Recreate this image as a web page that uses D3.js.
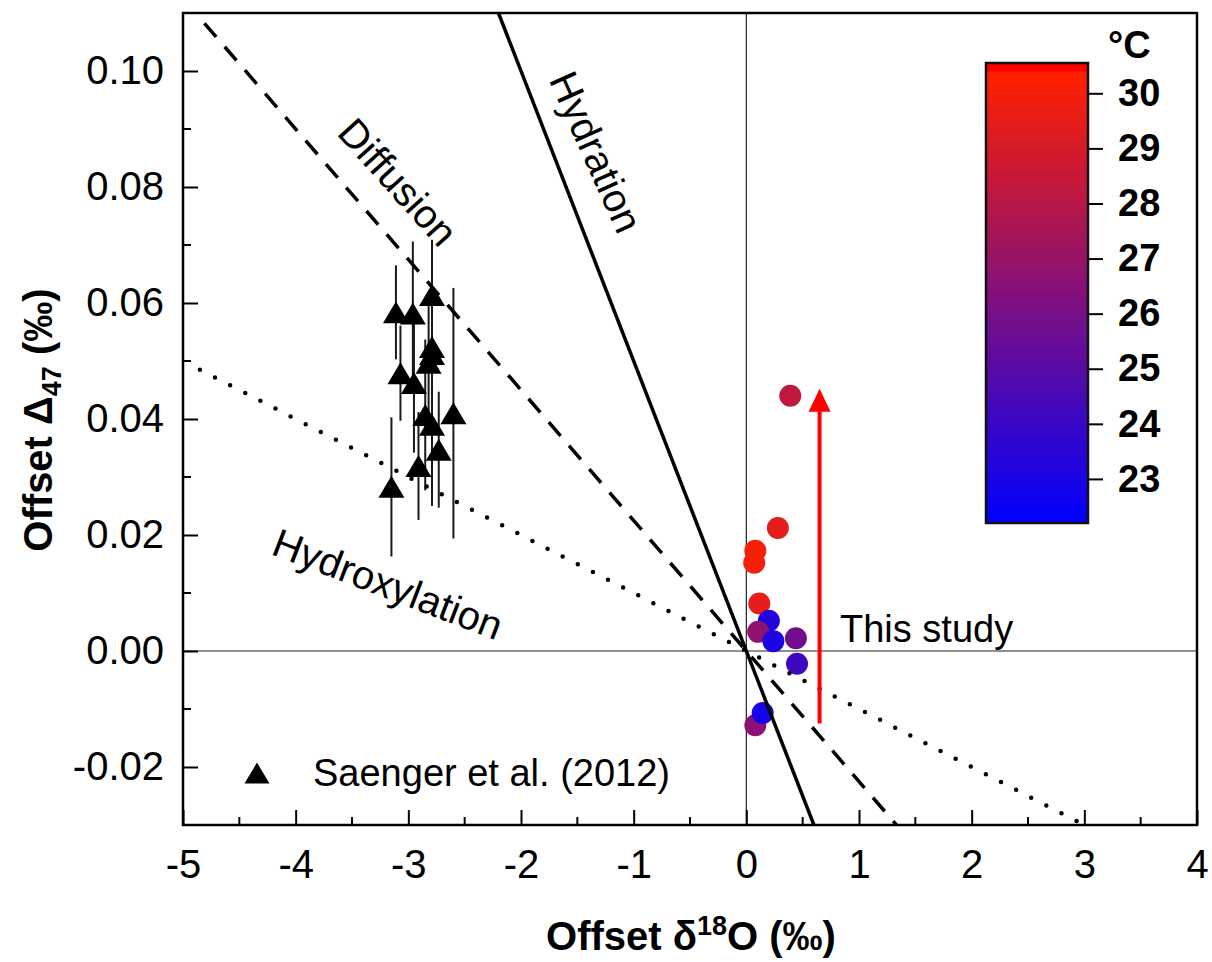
<!DOCTYPE html>
<html lang="en">
<head>
<meta charset="UTF-8">
<title>Offset D47 vs Offset d18O</title>
<style>
    html, body { margin: 0; padding: 0; background: #fff; }
    svg text { font-family: "Liberation Sans", Arial, sans-serif; }
</style>
</head>
<body>
<div id="chart"></div>
<script src="https://cdn.jsdelivr.net/npm/d3@7"></script>
<script>
// Saenger et al. (2012) triangles
const triX   = [-3.11, -2.96, -2.79, -3.07, -2.95, -2.79, -2.79, -2.82, -2.85, -2.79, -2.60, -2.73, -2.91, -3.15];
const triY   = [0.0584, 0.0582, 0.0614, 0.0479, 0.0462, 0.0524, 0.0512, 0.0497, 0.0407, 0.0390, 0.0410, 0.0347, 0.0319, 0.0283];
const triErr = [0.0081, 0.0124, 0.0095, 0.0082, 0.0120, 0.0120, 0.0105, 0.0110, 0.0130, 0.0140, 0.0216, 0.0100, 0.0093, 0.0120];

// this study, coloured by temperature (°C)
const circX = [0.39, 0.28, 0.08, 0.07, 0.115, 0.20, 0.105, 0.24, 0.44, 0.45, 0.08, 0.145];
const circY = [0.0440, 0.0212, 0.0173, 0.0152, 0.0082, 0.0052, 0.0033, 0.0017, 0.0022, -0.0022, -0.0128, -0.0107];
const circT = [28.3, 29.4, 30.0, 30.0, 29.5, 23.3, 26.8, 23.1, 25.8, 24.2, 26.6, 22.9];

// model lines through origin: slope and x extent
const lineNames  = ["Hydration", "Diffusion", "Hydroxylation"];
const lineSlopes = [-0.05, -0.0225, -0.01];
const lineX0     = [-2.2, -4.81, -4.85];
const lineX1     = [0.6, 1.333, 2.95];

// red arrow
const arrowX = 0.65, arrowY0 = -0.0125, arrowY1 = 0.0452;

const xTicks = [-5, -4, -3, -2, -1, 0, 1, 2, 3, 4];
const yTicks = [-0.02, 0, 0.02, 0.04, 0.06, 0.08, 0.10];
const cbTicks = [23, 24, 25, 26, 27, 28, 29, 30];
const cbDomain = [22.2, 30.55];

const W = 1212, H = 962;
const L = 183, R = 1197, T = 13, B = 825;

const svg = d3.select("#chart").append("svg")
    .attr("width", W).attr("height", H);

const x = d3.scaleLinear().domain([-5, 4]).range([L, R]);
const y = d3.scaleLinear().domain([-0.03, 0.11]).range([B, T]);

const tempColor = d3.scaleLinear()
    .domain([22.2, 30.3, 30.32, 30.55])
    .range(["#0000ff", "#ff2000", "#ff0000", "#ff0000"])
    .interpolate(d3.interpolateRgb);

const hyphen = s => s.replace("−", "-");

svg.append("clipPath").attr("id", "plot")
    .append("rect").attr("x", L).attr("y", T).attr("width", R - L).attr("height", B - T);

// zero lines
svg.append("line").attr("x1", x(0)).attr("x2", x(0)).attr("y1", T).attr("y2", B)
    .attr("stroke", "#222").attr("stroke-width", 1.2);
svg.append("line").attr("x1", L).attr("x2", R).attr("y1", y(0)).attr("y2", y(0))
    .attr("stroke", "#222").attr("stroke-width", 1.2);

// error bars + triangles
const tri = triX.map((d, i) => ({ x: d, y: triY[i], e: triErr[i] }));
svg.append("g").selectAll("line").data(tri).join("line")
    .attr("x1", d => x(d.x)).attr("x2", d => x(d.x))
    .attr("y1", d => y(d.y - d.e)).attr("y2", d => y(d.y + d.e))
    .attr("stroke", "#1a1a1a").attr("stroke-width", 2);
svg.append("g").selectAll("path").data(tri).join("path")
    .attr("transform", d => `translate(${x(d.x)},${y(d.y)})`)
    .attr("d", "M0,-11L13,11L-13,11Z")
    .attr("fill", "#000");

// circles
const circ = circX.map((d, i) => ({ x: d, y: circY[i], t: circT[i] }));
svg.append("g").selectAll("circle").data(circ).join("circle")
    .attr("cx", d => x(d.x)).attr("cy", d => y(d.y)).attr("r", 11)
    .attr("fill", d => tempColor(d.t));

// model lines
const dashes = [null, "18,13", "0,17"];
const widths = [3.5, 3.5, 4.5];
const lg = svg.append("g").attr("clip-path", "url(#plot)");
lineNames.forEach((n, i) => {
    lg.append("line")
        .attr("x1", x(lineX0[i])).attr("y1", y(lineSlopes[i] * lineX0[i]))
        .attr("x2", x(lineX1[i])).attr("y2", y(lineSlopes[i] * lineX1[i]))
        .attr("stroke", "#000").attr("stroke-width", widths[i])
        .attr("stroke-dasharray", dashes[i])
        .attr("stroke-linecap", i === 2 ? "round" : "butt");
});

// arrow
const headH = 23, headW = 22;
svg.append("line")
    .attr("x1", x(arrowX)).attr("x2", x(arrowX))
    .attr("y1", y(arrowY0)).attr("y2", y(arrowY1) + headH - 2)
    .attr("stroke", "#ff0000").attr("stroke-width", 4);
svg.append("path")
    .attr("transform", `translate(${x(arrowX)},${y(arrowY1)})`)
    .attr("d", `M0,0L${headW / 2},${headH}L${-headW / 2},${headH}Z`)
    .attr("fill", "#ff0000");

// line labels
const labelPos = [[596, 152, 66], [398, 182, 48], [388, 584, 21]];
lineNames.forEach((n, i) => {
    const [cx, cy, a] = labelPos[i];
    svg.append("text")
        .attr("transform", `translate(${cx},${cy}) rotate(${a})`)
        .attr("text-anchor", "middle").attr("dy", "0.35em")
        .attr("font-size", 40).text(n);
});

svg.append("text").attr("x", 840).attr("y", 642)
    .attr("font-size", 38).text("This study");

// legend
svg.append("path").attr("transform", "translate(257,773)")
    .attr("d", "M0,-10.5L12.5,10.5L-12.5,10.5Z").attr("fill", "#000");
svg.append("text").attr("x", 313).attr("y", 786)
    .attr("font-size", 38).text("Saenger et al. (2012)");

// axes: ticks inward
const xAxis = svg.append("g").attr("transform", `translate(0,${B})`)
    .call(d3.axisBottom(x).tickValues(xTicks).tickSize(-15).tickPadding(0)
        .tickFormat(d => hyphen(d3.format("d")(d))));
xAxis.selectAll("text").attr("y", 53).attr("dy", 0).attr("font-size", 40).attr("font-family", null);
const xMinor = d3.range(-4.5, 4, 1);
svg.append("g").selectAll("line").data(xMinor).join("line")
    .attr("x1", d => x(d)).attr("x2", d => x(d)).attr("y1", B).attr("y2", B - 8)
    .attr("stroke", "#000").attr("stroke-width", 2);

const yAxis = svg.append("g").attr("transform", `translate(${L},0)`)
    .call(d3.axisLeft(y).tickValues(yTicks).tickSize(-15)
        .tickFormat(d => hyphen(d3.format(".2f")(d))));
yAxis.selectAll("text").attr("x", -19).attr("font-size", 40).attr("font-family", null);
const yMinor = [-0.01, 0.01, 0.03, 0.05, 0.07, 0.09];
svg.append("g").selectAll("line").data(yMinor).join("line")
    .attr("x1", L).attr("x2", L + 8).attr("y1", d => y(d)).attr("y2", d => y(d))
    .attr("stroke", "#000").attr("stroke-width", 2);

[xAxis, yAxis].forEach(a => {
    a.select(".domain").remove();
    a.selectAll(".tick line").attr("stroke", "#000").attr("stroke-width", 2);
    a.selectAll("text").attr("fill", "#000");
});

// frame
svg.append("rect").attr("x", L).attr("y", T).attr("width", R - L).attr("height", B - T)
    .attr("fill", "none").attr("stroke", "#000").attr("stroke-width", 2.5);

// axis titles
const xt = svg.append("text").attr("x", 691).attr("y", 950)
    .attr("text-anchor", "middle").attr("font-size", 40).attr("font-weight", "bold");
xt.append("tspan").text("Offset δ");
xt.append("tspan").attr("font-size", 27).attr("dy", -15).text("18");
xt.append("tspan").attr("dy", 15).text("O (‰)");

const yt = svg.append("text").attr("transform", "translate(52,420) rotate(-90)")
    .attr("text-anchor", "middle").attr("font-size", 40).attr("font-weight", "bold");
yt.append("tspan").text("Offset Δ");
yt.append("tspan").attr("font-size", 27).attr("dy", 9).text("47");
yt.append("tspan").attr("dy", -9).text(" (‰)");

// colour bar
const cbX = 986, cbW = 102, cbTop = 63, cbBot = 523;
const cy = d3.scaleLinear().domain(cbDomain).range([cbBot, cbTop]);
const bands = d3.range(cbDomain[0], cbDomain[1], 0.2);
svg.append("g").selectAll("rect").data(bands).join("rect")
    .attr("x", cbX).attr("width", cbW)
    .attr("y", d => cy(Math.min(d + 0.2, cbDomain[1])))
    .attr("height", d => cy(d) - cy(Math.min(d + 0.2, cbDomain[1])) + 0.6)
    .attr("fill", d => tempColor(d + 0.1));
svg.append("rect").attr("x", cbX).attr("y", cbTop).attr("width", cbW).attr("height", cbBot - cbTop)
    .attr("fill", "none").attr("stroke", "#111").attr("stroke-width", 2.5);
const cbAxis = svg.append("g").attr("transform", `translate(${cbX + cbW},0)`)
    .call(d3.axisRight(cy).tickValues(cbTicks).tickSize(15).tickPadding(15).tickFormat(d3.format("d")));
cbAxis.select(".domain").remove();
cbAxis.selectAll(".tick line").attr("stroke", "#000").attr("stroke-width", 2);
cbAxis.selectAll("text").attr("font-size", 38).attr("font-weight", "bold")
    .attr("font-family", null).attr("fill", "#000");
svg.append("text").attr("x", 1108).attr("y", 58)
    .attr("font-size", 38).attr("font-weight", "bold").text("°C");
</script>
</body>
</html>
